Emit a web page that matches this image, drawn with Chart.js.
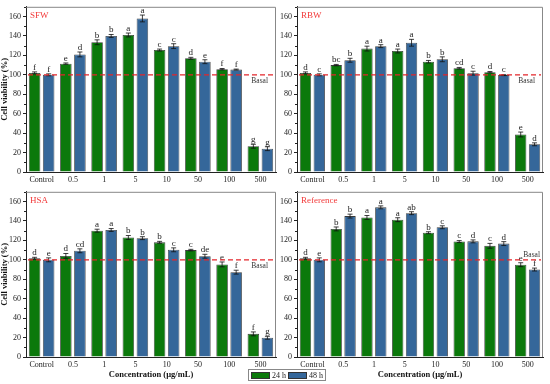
<!DOCTYPE html>
<html>
<head>
<meta charset="utf-8">
<script src="https://cdn.jsdelivr.net/npm/chart.js@4.4.1/dist/chart.umd.min.js"></script>
<style>
  body { margin: 0; width: 550px; height: 384px; background: #fff; position: relative; overflow: hidden; font-family: "Liberation Serif", serif; }
  canvas { position: absolute; }
  #legend { position: absolute; left: 248px; top: 369px; height: 10px; border: 1px solid #888; display: flex; align-items: center; font-size: 8px; color: #222; padding: 0 2px; gap: 2px; }
  #legend .sw { display: inline-block; width: 19px; height: 7px; border: 0.8px solid #333; box-sizing: border-box; }
</style>
</head>
<body>
<canvas id="sfw" width="280" height="186" style="left:0;top:0"></canvas>
<canvas id="rbw" width="280" height="186" style="left:270px;top:0"></canvas>
<canvas id="hsa" width="280" height="199" style="left:0;top:185px"></canvas>
<canvas id="ref" width="280" height="199" style="left:270px;top:185px"></canvas>
<div id="legend"></div>
<script>
const FONT = '"Liberation Serif", serif';
const concentrations = ['Control', '0.5', '1', '5', '10', '50', '100', '500'];
const yTicks = [0, 20, 40, 60, 80, 100, 120, 140, 160];
const seriesNames = ['24 h', '48 h'];
const seriesColors = ['#0b790b', '#35679a'];

// SFW
const sfw24 = [102, 111.5, 133.5, 141, 125.5, 117, 105.8, 26.5];
const sfw48 = [100, 121, 140, 158, 129.5, 113.5, 105.4, 24];
const sfwErr24 = [1, 0.7, 2.5, 2, 1, 1, 0.7, 2];
const sfwErr48 = [1, 2.5, 1.5, 3.5, 2.5, 2, 0.5, 2];
const sfwLet24 = ['f', 'e', 'b', 'a', 'c', 'd', 'f', 'g'];
const sfwLet48 = ['f', 'd', 'b', 'a', 'c', 'e', 'f', 'g'];

// RBW
const rbw24 = [102, 110, 127, 124.5, 113.5, 106.8, 102.7, 38.6];
const rbw48 = [100, 115, 129.5, 133, 116, 101.7, 99.7, 28.5];
const rbwErr24 = [1, 0.7, 2.5, 2, 1.3, 0.8, 0.7, 2.5];
const rbwErr48 = [1, 2, 1.5, 3.5, 2.5, 2, 0.5, 1.5];
const rbwLet24 = ['d', 'bc', 'a', 'a', 'b', 'cd', 'd', 'e'];
const rbwLet48 = ['c', 'b', 'a', 'a', 'b', 'c', 'c', 'd'];

// HSA
const hsa24 = [101.6, 104, 130, 123, 118, 110, 95.3, 23.8];
const hsa48 = [100, 109.3, 130.7, 122.3, 110.3, 103.7, 87.3, 19.8];
const hsaErr24 = [1, 2.5, 1.5, 2, 1, 0.8, 2.5, 2];
const hsaErr48 = [2, 2, 1.5, 1.5, 2, 2, 2, 1.5];
const hsaLet24 = ['d', 'd', 'a', 'b', 'b', 'c', 'e', 'f'];
const hsaLet48 = ['e', 'cd', 'a', 'b', 'c', 'de', 'f', 'g'];

// Reference
const ref24 = [101.6, 131.8, 143.6, 141.3, 127.9, 118.8, 114.4, 95];
const ref48 = [100, 145, 154, 148, 133.5, 119, 116.7, 90];
const refErr24 = [1, 2, 2, 2, 1, 1, 2.5, 2];
const refErr48 = [2, 2, 1.5, 1.5, 1.5, 1.5, 2, 1.5];
const refLet24 = ['d', 'b', 'a', 'a', 'b', 'c', 'c', 'e'];
const refLet48 = ['e', 'b', 'a', 'ab', 'c', 'd', 'd', 'f'];

const panelExtras = {
  id: 'panelExtras',
  afterDatasetsDraw(chart, args, o) {
    const { ctx, chartArea: a, scales: { y } } = chart;
    ctx.save();
    // frame top/right
    ctx.strokeStyle = '#888';
    ctx.lineWidth = 1;
    ctx.beginPath();
    ctx.moveTo(a.left, a.top + 0.5);
    ctx.lineTo(a.right - 0.5, a.top + 0.5);
    ctx.lineTo(a.right - 0.5, a.bottom);
    ctx.stroke();
    // minor ticks
    ctx.strokeStyle = '#222';
    ctx.beginPath();
    for (let v = 10; v <= 170; v += 20) {
      const py = Math.round(y.getPixelForValue(v)) + 0.5;
      ctx.moveTo(a.left, py);
      ctx.lineTo(a.left - 2, py);
    }
    ctx.stroke();
    // error bars + letters
    chart.data.datasets.forEach((ds, i) => {
      const meta = chart.getDatasetMeta(i);
      meta.data.forEach((bar, j) => {
        const v = ds.data[j], e = o.errors[i][j];
        const yt = y.getPixelForValue(v + e), yb = y.getPixelForValue(v - e);
        ctx.strokeStyle = '#111';
        ctx.lineWidth = 0.8;
        ctx.beginPath();
        ctx.moveTo(bar.x, yt); ctx.lineTo(bar.x, yb);
        ctx.moveTo(bar.x - 2.5, yt); ctx.lineTo(bar.x + 2.5, yt);
        ctx.moveTo(bar.x - 2.5, yb); ctx.lineTo(bar.x + 2.5, yb);
        ctx.stroke();
        ctx.fillStyle = '#222';
        ctx.font = '9px ' + FONT;
        ctx.textAlign = 'center';
        ctx.textBaseline = 'bottom';
        ctx.fillText(o.letters[i][j], bar.x, yt);
      });
    });
    // basal line
    const y100 = y.getPixelForValue(100);
    ctx.strokeStyle = '#e3262b';
    ctx.lineWidth = 1.3;
    ctx.setLineDash([5, 3]);
    ctx.beginPath();
    ctx.moveTo(a.left + 2, y100);
    ctx.lineTo(a.right - 2, y100);
    ctx.stroke();
    ctx.setLineDash([]);
    ctx.fillStyle = '#333';
    ctx.font = '7.5px ' + FONT;
    ctx.textAlign = 'right';
    if (o.basalAbove) {
      ctx.textBaseline = 'bottom';
      ctx.fillText('Basal', a.right - 3, y100 - 1);
    } else {
      ctx.textBaseline = 'top';
      ctx.fillText('Basal', a.right - 8, y100 + 2);
    }
    // panel name
    ctx.fillStyle = '#f23a3a';
    ctx.font = '9px ' + FONT;
    ctx.textAlign = 'left';
    ctx.textBaseline = 'top';
    ctx.fillText(o.name, a.left + 4, a.top + 4);
    ctx.restore();
  }
};

function makePanel(id, p) {
  new Chart(document.getElementById(id), {
    type: 'bar',
    data: {
      labels: concentrations,
      datasets: [
        { label: seriesNames[0], data: p.v24, backgroundColor: seriesColors[0], borderColor: '#3a3a3a', borderWidth: 0.8 },
        { label: seriesNames[1], data: p.v48, backgroundColor: seriesColors[1], borderColor: '#3a3a3a', borderWidth: 0.8 }
      ]
    },
    options: {
      responsive: false, animation: false,
      datasets: { bar: { categoryPercentage: 0.9, barPercentage: 0.82 } },
      layout: { padding: { top: 3, right: p.right, left: 0, bottom: 0 } },
      plugins: {
        legend: { display: false }, tooltip: { enabled: false },
        panelExtras: { name: p.name, errors: [p.e24, p.e48], letters: [p.l24, p.l48], basalAbove: p.basalAbove }
      },
      scales: {
        x: {
          grid: { display: false, drawTicks: false },
          border: { display: true, color: '#222', width: 1 },
          ticks: { font: { family: FONT, size: 8 }, color: '#222', padding: 3, maxRotation: 0, autoSkip: false },
          title: { display: p.xTitle, text: 'Concentration (µg/mL)', font: { family: FONT, size: 8.5, weight: 'bold' }, color: '#111', padding: { top: 0, bottom: 4 } },
          afterFit: s => { s.height = p.xh; }
        },
        y: {
          min: 0, max: 170,
          afterBuildTicks: s => { s.ticks = yTicks.map(v => ({ value: v })); },
          grid: { drawOnChartArea: false, drawTicks: true, tickLength: 3, color: '#222' },
          border: { color: '#222', width: 1 },
          ticks: { font: { family: FONT, size: 8 }, color: '#222', padding: 2 },
          title: { display: p.yTitle, text: 'Cell viability (%)', font: { family: FONT, size: 8.5, weight: 'bold' }, color: '#111', padding: 0 },
          afterFit: s => { s.width = p.yw; }
        }
      }
    },
    plugins: [panelExtras]
  });
}

makePanel('sfw', { name: 'SFW', v24: sfw24, v48: sfw48, e24: sfwErr24, e48: sfwErr48, l24: sfwLet24, l48: sfwLet48, yTitle: true, xTitle: false, yw: 26, xh: 14, right: 4, basalAbove: false });
makePanel('rbw', { name: 'RBW', v24: rbw24, v48: rbw48, e24: rbwErr24, e48: rbwErr48, l24: rbwLet24, l48: rbwLet48, yTitle: false, xTitle: false, yw: 27, xh: 14, right: 7, basalAbove: false });
makePanel('hsa', { name: 'HSA', v24: hsa24, v48: hsa48, e24: hsaErr24, e48: hsaErr48, l24: hsaLet24, l48: hsaLet48, yTitle: true, xTitle: true, yw: 26, xh: 27, right: 4, basalAbove: false });
makePanel('ref', { name: 'Reference', v24: ref24, v48: ref48, e24: refErr24, e48: refErr48, l24: refLet24, l48: refLet48, yTitle: false, xTitle: true, yw: 27, xh: 27, right: 7, basalAbove: true });

const legend = document.getElementById('legend');
seriesNames.forEach((n, i) => {
  legend.insertAdjacentHTML('beforeend', `<span class="sw" style="background:${seriesColors[i]}"></span><span>${n}</span>`);
});
</script>
</body>
</html>
